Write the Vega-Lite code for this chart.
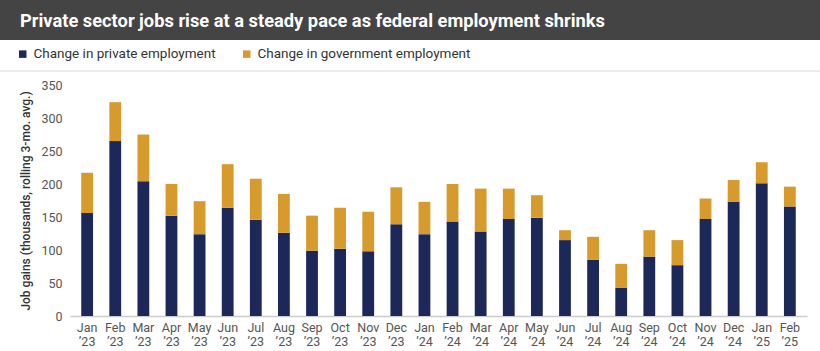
{
  "$schema": "https://vega.github.io/schema/vega-lite/v6.json",
  "padding": 0,
  "spacing": 0,
  "background": "#ffffff",
  "config": {"view": {"stroke": null}, "font": "Roboto", "concat": {"spacing": 0}},
  "vconcat": [
    {
      "width": 820, "height": 40,
      "view": {"fill": "#444444", "stroke": null},
      "title": {"text": "Private sector jobs rise at a steady pace as federal employment shrinks", "anchor": "start", "frame": "group", "orient": "top", "offset": -40, "baseline": "middle", "dx": 20, "color": "#ffffff", "fontSize": 18.3, "fontWeight": "bold", "font": "Roboto"},
      "data": {"values": []},
      "mark": "point"
    },
    {
      "width": 820, "height": 30,
      "view": {"fill": "#ffffff", "stroke": null},
      "data": {"values": []},
      "mark": "point"
    },
    {
      "width": 820, "height": 2,
      "view": {"fill": "#ececec", "stroke": null},
      "data": {"values": []},
      "mark": "point"
    },
    {
      "width": 820, "height": 7,
      "view": {"fill": "#ffffff", "stroke": null},
      "data": {"values": []},
      "mark": "point"
    },
    {
      "spacing": 0,
      "hconcat": [
        {
          "width": 19, "height": 10,
          "data": {"values": []},
          "mark": "point"
        },
        {
          "width": 737, "height": 231,
          "data": {"values": [
            {"month": "Jan ’23", "series": "Change in private employment", "value": 156},
            {"month": "Jan ’23", "series": "Change in government employment", "value": 61},
            {"month": "Feb ’23", "series": "Change in private employment", "value": 265},
            {"month": "Feb ’23", "series": "Change in government employment", "value": 59},
            {"month": "Mar ’23", "series": "Change in private employment", "value": 204},
            {"month": "Mar ’23", "series": "Change in government employment", "value": 71},
            {"month": "Apr ’23", "series": "Change in private employment", "value": 152},
            {"month": "Apr ’23", "series": "Change in government employment", "value": 48},
            {"month": "May ’23", "series": "Change in private employment", "value": 124},
            {"month": "May ’23", "series": "Change in government employment", "value": 50},
            {"month": "Jun ’23", "series": "Change in private employment", "value": 164},
            {"month": "Jun ’23", "series": "Change in government employment", "value": 66},
            {"month": "Jul ’23", "series": "Change in private employment", "value": 146},
            {"month": "Jul ’23", "series": "Change in government employment", "value": 62},
            {"month": "Aug ’23", "series": "Change in private employment", "value": 126},
            {"month": "Aug ’23", "series": "Change in government employment", "value": 59},
            {"month": "Sep ’23", "series": "Change in private employment", "value": 99},
            {"month": "Sep ’23", "series": "Change in government employment", "value": 53},
            {"month": "Oct ’23", "series": "Change in private employment", "value": 102},
            {"month": "Oct ’23", "series": "Change in government employment", "value": 62},
            {"month": "Nov ’23", "series": "Change in private employment", "value": 98},
            {"month": "Nov ’23", "series": "Change in government employment", "value": 60},
            {"month": "Dec ’23", "series": "Change in private employment", "value": 139},
            {"month": "Dec ’23", "series": "Change in government employment", "value": 56},
            {"month": "Jan ’24", "series": "Change in private employment", "value": 124},
            {"month": "Jan ’24", "series": "Change in government employment", "value": 49},
            {"month": "Feb ’24", "series": "Change in private employment", "value": 143},
            {"month": "Feb ’24", "series": "Change in government employment", "value": 57},
            {"month": "Mar ’24", "series": "Change in private employment", "value": 128},
            {"month": "Mar ’24", "series": "Change in government employment", "value": 65},
            {"month": "Apr ’24", "series": "Change in private employment", "value": 147},
            {"month": "Apr ’24", "series": "Change in government employment", "value": 46},
            {"month": "May ’24", "series": "Change in private employment", "value": 149},
            {"month": "May ’24", "series": "Change in government employment", "value": 34},
            {"month": "Jun ’24", "series": "Change in private employment", "value": 115},
            {"month": "Jun ’24", "series": "Change in government employment", "value": 15},
            {"month": "Jul ’24", "series": "Change in private employment", "value": 85},
            {"month": "Jul ’24", "series": "Change in government employment", "value": 35},
            {"month": "Aug ’24", "series": "Change in private employment", "value": 43},
            {"month": "Aug ’24", "series": "Change in government employment", "value": 36},
            {"month": "Sep ’24", "series": "Change in private employment", "value": 90},
            {"month": "Sep ’24", "series": "Change in government employment", "value": 40},
            {"month": "Oct ’24", "series": "Change in private employment", "value": 77},
            {"month": "Oct ’24", "series": "Change in government employment", "value": 38},
            {"month": "Nov ’24", "series": "Change in private employment", "value": 147},
            {"month": "Nov ’24", "series": "Change in government employment", "value": 31},
            {"month": "Dec ’24", "series": "Change in private employment", "value": 173},
            {"month": "Dec ’24", "series": "Change in government employment", "value": 33},
            {"month": "Jan ’25", "series": "Change in private employment", "value": 201},
            {"month": "Jan ’25", "series": "Change in government employment", "value": 32},
            {"month": "Feb ’25", "series": "Change in private employment", "value": 166},
            {"month": "Feb ’25", "series": "Change in government employment", "value": 30}
          ]},
          "mark": {"type": "bar"},
          "encoding": {
            "x": {
              "field": "month", "type": "ordinal", "sort": null,
              "scale": {"paddingInner": 0.58, "paddingOuter": 0.4},
              "axis": {"title": null, "labelExpr": "split(datum.label, ' ')", "labelAngle": 0, "ticks": false, "domainColor": "#cccccc", "domainWidth": 1.5, "labelFontSize": 12.5, "labelColor": "#555555", "labelPadding": 5, "labelLineHeight": 14, "labelBaseline": "top"}
            },
            "y": {
              "field": "value", "type": "quantitative", "stack": "zero",
              "scale": {"domain": [0, 350], "nice": false},
              "axis": {"values": [0, 50, 100, 150, 200, 250, 300, 350], "title": "Job gains (thousands, rolling 3-mo. avg.)", "grid": false, "domain": false, "ticks": false, "labelPadding": 8, "labelFontSize": 12.5, "labelColor": "#555555", "titleFontSize": 12, "titleFontWeight": 500, "titleColor": "#333333", "titlePadding": 8}
            },
            "color": {
              "field": "series", "type": "nominal",
              "scale": {"domain": ["Change in private employment", "Change in government employment"], "range": ["#1b2858", "#d69a2d"]},
              "legend": {"orient": "none", "legendX": 16, "legendY": 47, "direction": "horizontal", "title": null, "symbolType": "square", "symbolSize": 56, "symbolStrokeWidth": 0, "labelFontSize": 13.5, "labelColor": "#333333", "labelLimit": 400, "columnPadding": 24, "labelOffset": 4, "padding": 0}
            },
            "order": {"field": "series", "sort": "descending"}
          }
        }
      ]
    }
  ]
}
